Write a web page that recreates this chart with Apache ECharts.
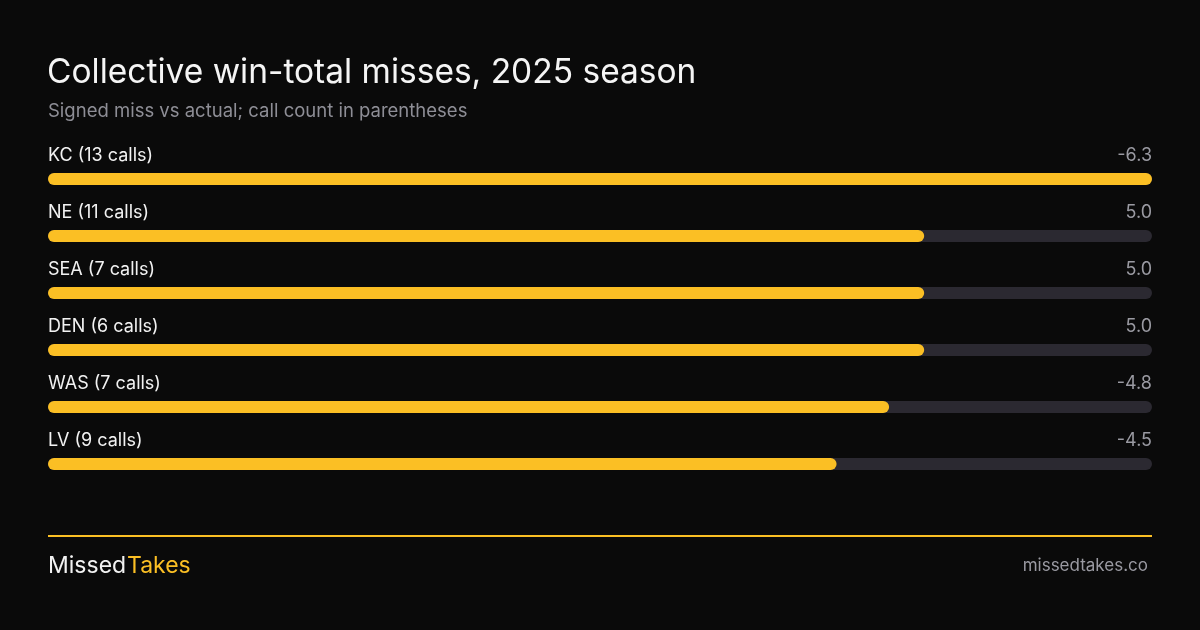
<!DOCTYPE html>
<html>
<head>
<meta charset="utf-8">
<script src="https://cdn.jsdelivr.net/npm/echarts@6/dist/echarts.min.js"></script>
<style>
  html, body { margin: 0; padding: 0; background: #0a0a0a; }
  #chart { width: 1200px; height: 630px; }
</style>
</head>
<body>
<div id="chart"></div>
<script>
var teams = ['KC', 'NE', 'SEA', 'DEN', 'WAS', 'LV']
var calls = [13, 11, 7, 6, 7, 9]
var misses = [-6.3, 5.0, 5.0, 5.0, -4.8, -4.5]

var yellow = '#fbbf24'
var track = '#2b2931'
var font = 'Inter, "Noto Sans", sans-serif'

var maxAbs = Math.max.apply(null, misses.map(function (v) { return Math.abs(v) }))
var labels = teams.map(function (t, i) { return t + ' (' + calls[i] + ' calls)' })

var chart = echarts.init(document.getElementById('chart'), null, { renderer: 'canvas' })

chart.setOption({
  backgroundColor: '#0a0a0a',
  animation: false,
  textStyle: { fontFamily: font },
  title: [
    { text: 'Collective win-total misses, 2025 season', left: 47, top: 56, padding: 0,
      textStyle: { color: '#f5f5f5', fontSize: 33.5, fontWeight: 'normal', fontFamily: font } },
    { text: 'Signed miss vs actual; call count in parentheses', left: 48, top: 102, padding: 0,
      textStyle: { color: '#8e8e96', fontSize: 18.5, fontWeight: 'normal', fontFamily: font } }
  ],
  grid: { left: 48, right: 48, top: 150.5, height: 342 },
  xAxis: { type: 'value', min: 0, max: maxAbs, show: false },
  yAxis: { type: 'category', data: labels, inverse: true, show: false },
  series: [
    {
      type: 'bar',
      barWidth: 12,
      barGap: '-100%',
      silent: true,
      data: misses.map(function () { return maxAbs }),
      itemStyle: { color: track, borderRadius: 6 },
      label: {
        show: true,
        position: ['100%', -17],
        align: 'right',
        verticalAlign: 'middle',
        color: '#9a9aa2',
        fontSize: 18,
        fontFamily: font,
        formatter: function (p) { return misses[p.dataIndex].toFixed(1) }
      },
      z: 1
    },
    {
      type: 'bar',
      barWidth: 12,
      data: misses.map(function (v) { return Math.abs(v) }),
      itemStyle: { color: yellow, borderRadius: 6 },
      label: {
        show: true,
        position: [0, -17],
        align: 'left',
        verticalAlign: 'middle',
        color: '#f2f2f2',
        fontSize: 18,
        fontFamily: font,
        formatter: function (p) { return labels[p.dataIndex] }
      },
      z: 2
    }
  ],
  graphic: [
    { type: 'rect', shape: { x: 48, y: 535, width: 1104, height: 2 }, style: { fill: yellow } },
    { type: 'text', left: 48, top: 555,
      style: { text: 'Missed', fill: '#f2f2f2', font: '23px ' + font } },
    { type: 'text', left: 127, top: 555,
      style: { text: 'Takes', fill: yellow, font: '23px ' + font } },
    { type: 'text', right: 52, top: 557,
      style: { text: 'missedtakes.co', fill: '#9a9aa2', font: '17px ' + font } }
  ]
})
</script>
</body>
</html>
